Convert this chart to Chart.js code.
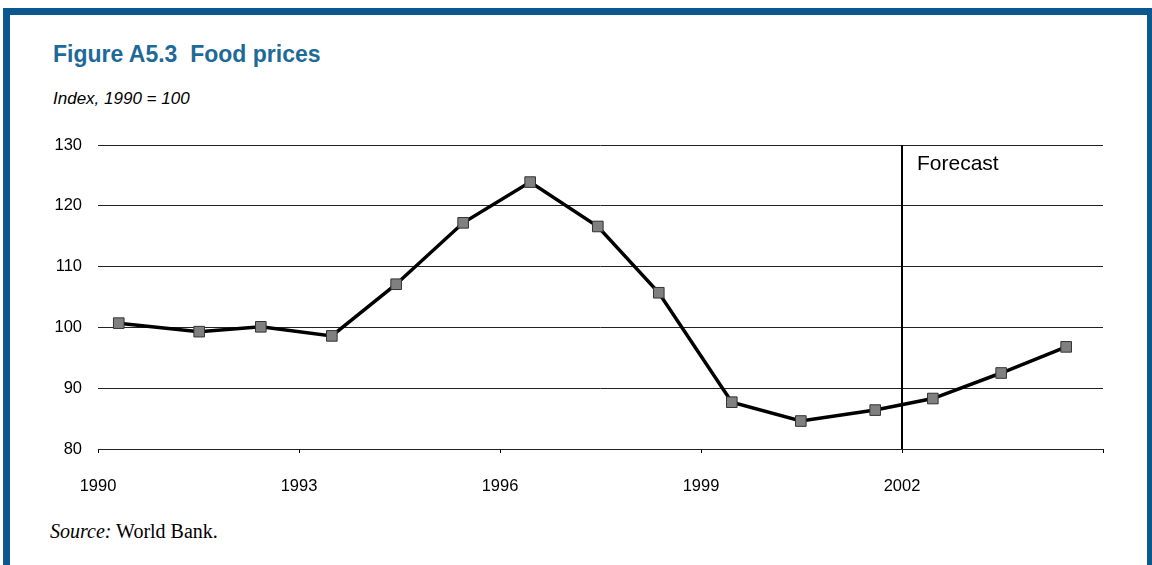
<!DOCTYPE html>
<html lang="en">
<head>
    <meta charset="UTF-8">
    <title>Figure A5.3 Food prices</title>
    <script src="https://cdn.jsdelivr.net/npm/chart.js"></script>
    <style>
        html, body { margin: 0; padding: 0; background: #fff; }
        body { width: 1152px; height: 565px; position: relative; overflow: hidden; font-family: "Liberation Sans", Arial, sans-serif; }
        .frame {
            position: absolute; left: 3px; top: 8px; width: 1137px; height: 600px;
            border: 7px solid #0b5890; border-bottom: none;
        }
        .title { position: absolute; left: 53px; top: 43px; font-size: 23px; line-height: 1; font-weight: bold; color: #1d6a98; white-space: pre; }
        .subtitle { position: absolute; left: 53px; top: 90px; font-size: 17px; line-height: 1; font-style: italic; color: #000; }
        .source { position: absolute; left: 50px; top: 521px; font-size: 20px; line-height: 1; font-family: "Liberation Serif", "DejaVu Serif", serif; color: #000; }
        .chart-box { position: absolute; left: 0; top: 0; width: 1152px; height: 565px; }
    </style>
</head>
<body>
    <div class="frame"></div>
    <div class="title">Figure A5.3  Food prices</div>
    <div class="subtitle">Index, 1990 = 100</div>
    <div class="source"><i>Source:</i> World Bank.</div>
    <div class="chart-box"><canvas id="foodChart"></canvas></div>

    <script>
        // Data
        const years = [1990.31, 1991.51, 1992.43, 1993.49, 1994.45, 1995.45, 1996.45, 1997.46,
                       1998.37, 1999.46, 2000.49, 2001.6, 2002.46, 2003.48, 2004.45];
        const foodIndex = [100.7, 99.3, 100.1, 98.6, 107.1, 117.2, 123.9, 116.6,
                           105.7, 87.7, 84.6, 86.4, 88.3, 92.5, 96.8];
        const yearTicks = [1990, 1993, 1996, 1999, 2002, 2005];
        const indexTicks = [80, 90, 100, 110, 120, 130];
        const forecastYear = 2002;
        const forecastLabel = 'Forecast';

        // Text next to the forecast divider
        const forecastText = {
            id: 'forecastText',
            afterDatasetsDraw(chart) {
                const { ctx, scales: { x, y } } = chart;
                ctx.save();
                ctx.font = '21px "Liberation Sans", Arial, sans-serif';
                ctx.fillStyle = '#000';
                ctx.textBaseline = 'alphabetic';
                ctx.fillText(forecastLabel, x.getPixelForValue(forecastYear) + 15, y.getPixelForValue(130) + 25);
                ctx.restore();
            }
        };

        function createChart() {
            const ctx = document.getElementById('foodChart').getContext('2d');
            const yMin = indexTicks[0];
            const yMax = indexTicks[indexTicks.length - 1];

            new Chart(ctx, {
                type: 'line',
                data: {
                    datasets: [{
                        label: 'Food prices',
                        data: years.map((yr, i) => ({ x: yr, y: foodIndex[i] })),
                        borderColor: '#000',
                        borderWidth: 3.5,
                        pointStyle: 'rect',
                        pointRadius: 7.5,
                        pointBackgroundColor: '#808080',
                        pointBorderColor: '#333',
                        pointBorderWidth: 1,
                        tension: 0
                    }, {
                        label: 'Forecast divider',
                        data: [{ x: forecastYear, y: yMin }, { x: forecastYear, y: yMax }],
                        borderColor: '#000',
                        borderWidth: 2,
                        pointRadius: 0
                    }]
                },
                options: {
                    responsive: true,
                    maintainAspectRatio: false,
                    animation: false,
                    layout: {
                        padding: { left: 38, top: 145, right: 49, bottom: 46 }
                    },
                    scales: {
                        x: {
                            type: 'linear',
                            min: 1990,
                            max: 2005,
                            afterBuildTicks: (s) => { s.ticks = yearTicks.map(v => ({ value: v })); },
                            afterFit: (s) => { s.height = 70; },
                            ticks: {
                                color: '#000',
                                font: { family: '"Liberation Sans", Arial, sans-serif', size: 16.5 },
                                padding: 24,
                                maxRotation: 0,
                                callback: (v) => v === 2005 ? '' : String(v)
                            },
                            grid: {
                                drawOnChartArea: false,
                                drawTicks: true,
                                tickLength: 4,
                                color: '#000'
                            },
                            border: { display: true, color: '#222', width: 1 }
                        },
                        y: {
                            min: yMin,
                            max: yMax,
                            afterBuildTicks: (s) => { s.ticks = indexTicks.map(v => ({ value: v })); },
                            afterFit: (s) => { s.width = 60; },
                            ticks: {
                                color: '#000',
                                font: { family: '"Liberation Sans", Arial, sans-serif', size: 16.5 },
                                padding: 16
                            },
                            grid: {
                                color: '#222',
                                lineWidth: 1,
                                drawTicks: false
                            },
                            border: { display: false }
                        }
                    },
                    plugins: {
                        legend: { display: false },
                        tooltip: { enabled: false }
                    }
                },
                plugins: [forecastText]
            });
        }

        window.onload = createChart;
    </script>
</body>
</html>
